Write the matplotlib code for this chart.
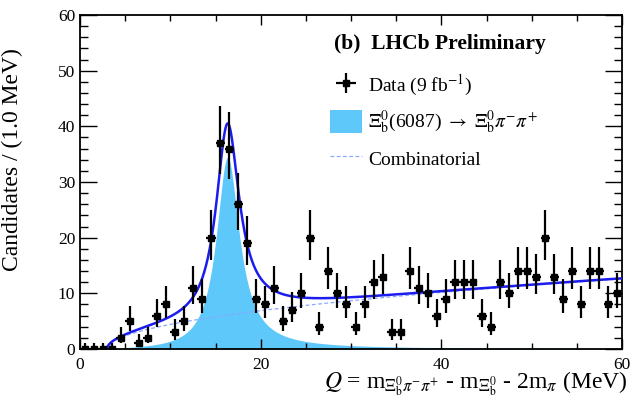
import numpy as np
import matplotlib
matplotlib.use('Agg')
import matplotlib.pyplot as plt

plt.rcParams['font.family'] = ['Liberation Serif', 'DejaVu Serif']
plt.rcParams['mathtext.fontset'] = 'stix'

# data: candidates per 1 MeV bin, Q from 0 to 60 MeV
bin_lo = np.arange(0, 60)
counts = [0, 0, 0, 0, 2, 5, 1, 2, 6, 8,
          3, 5, 11, 9, 20, 37, 36, 26, 19, 9,
          8, 11, 5, 7, 10, 20, 4, 14, 10, 8,
          4, 8, 12, 13, 3, 3, 14, 11, 10, 6,
          9, 12, 12, 12, 6, 4, 12, 10, 14, 14,
          13, 20, 13, 9, 14, 8, 14, 14, 8, 10]

# fit model parameters
peak_mass = 16.3
peak_width = 3.1
peak_height = 34.4
threshold = 3.0
bkg_norm = 1.67

x = bin_lo + 0.5
n = np.array(counts, dtype=float)
err_hi = 0.5 + np.sqrt(n + 0.25)
err_lo = np.where(n > 0, -0.5 + np.sqrt(n + 0.25), 0.0)

q = np.linspace(0, 60, 1200)
dq = np.clip(q - threshold, 0, None)
hw = peak_width / 2
sig = peak_height * hw**2 / ((q - peak_mass)**2 + hw**2) * np.sqrt(dq / (peak_mass - threshold))
bkg = bkg_norm * np.sqrt(dq)
tot = sig + bkg

fig = plt.figure(figsize=(6.34, 4.04), dpi=100)
ax = fig.add_axes([80/634, 1-349/404, 542/634, 334/404])

fill = ax.fill_between(q, 0, sig, color='#5ec8fa', lw=0, zorder=1)
bl, = ax.plot(q[q > threshold], bkg[q > threshold], ls=(0, (3, 2)), color='#8aa8ff', lw=0.9, zorder=2)
ax.plot(q[q > threshold], tot[q > threshold], color='#1c1cf0', lw=1.8, zorder=3)
data = ax.errorbar(x, n, yerr=[err_lo, err_hi], xerr=0.5, fmt='s', color='black',
                   ms=3.8, lw=1.6, capsize=0, zorder=4)

ax.set_xlim(0, 60)
ax.set_ylim(0, 60)
ax.set_xticks([0, 20, 40, 60])
ax.set_xticks(np.arange(0, 61, 5), minor=True)
ax.set_yticks(np.arange(0, 61, 10))
ax.set_yticks(np.arange(0, 61, 2), minor=True)
ax.tick_params(which='both', direction='in', top=True, right=True, labelsize=12.5)
ax.tick_params(axis='y', which='major', length=12, width=1)
ax.tick_params(axis='y', which='minor', length=6, width=1)
ax.tick_params(axis='x', which='major', length=7, width=1, pad=6)
ax.tick_params(axis='x', which='minor', length=4, width=1)
for s in ax.spines.values():
    s.set_linewidth(1.3)

ax.set_ylabel('Candidates / (1.0 MeV)', fontsize=17, loc='top')
ax.yaxis.set_label_coords(-0.105, 0.9)
ax.set_xlabel(r'$Q$ = m$_{\Xi_{\rm b}^{0}\pi^{-}\pi^{+}}$ - m$_{\Xi_{\rm b}^{0}}$ - 2m$_{\pi}$ (MeV)',
              fontsize=17, ha='right')
ax.xaxis.set_label_coords(1.01, -0.06)

ax.text(0.469, 0.912, '(b)  LHCb Preliminary', transform=ax.transAxes,
        fontsize=15.5, fontweight='bold', va='center', ha='left')
ax.legend([data, fill, bl],
          [r'Data (9 fb$^{-1}$)', r'$\Xi_{\rm b}^{0}$(6087) $\rightarrow$ $\Xi_{\rm b}^{0}\pi^{-}\pi^{+}$', 'Combinatorial'],
          loc='upper left', bbox_to_anchor=(0.462, 0.826), frameon=False, fontsize=14,
          handlelength=1.6, handleheight=1.4, handletextpad=0.35, labelspacing=0.55,
          borderpad=0, borderaxespad=0)

fig.savefig('out.png', dpi=100)
